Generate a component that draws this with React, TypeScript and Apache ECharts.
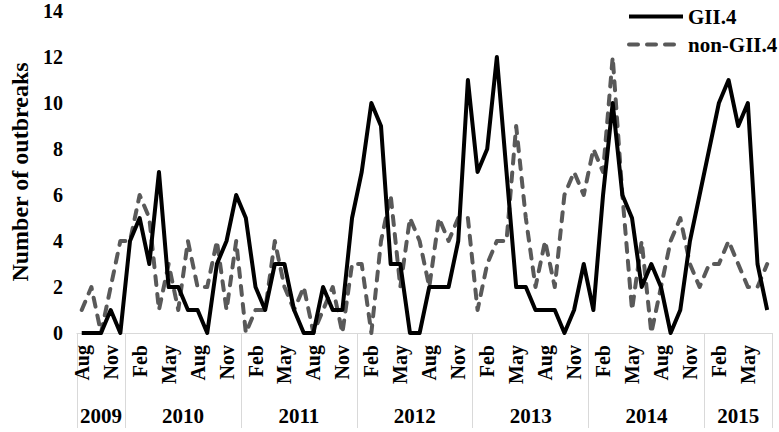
import React, { useEffect, useRef } from "react";
import * as echarts from "echarts";

// Month abbreviations used for the category axis
const monthNames = ["Jan", "Feb", "Mar", "Apr", "May", "Jun", "Jul", "Aug", "Sep", "Oct", "Nov", "Dec"];
// Year groups and how many months each covers (Aug 2009 – Jul 2015)
const years = ["2009", "2010", "2011", "2012", "2013", "2014", "2015"];
const yearMonthCounts = [5, 12, 12, 12, 12, 12, 7];
const firstMonthIndex = 7; // August

// Monthly outbreak counts
const gii4 = [
  0, 0, 0, 1, 0,
  4, 5, 3, 7, 2, 2, 1, 1, 0, 3, 4, 6,
  5, 2, 1, 3, 3, 1, 0, 0, 2, 1, 1, 5,
  7, 10, 9, 3, 3, 0, 0, 2, 2, 2, 4, 11,
  7, 8, 12, 7, 2, 2, 1, 1, 1, 0, 1, 3,
  1, 6, 10, 6, 5, 2, 3, 2, 0, 1, 4, 6,
  8, 10, 11, 9, 10, 3, 1,
];
const nonGii4 = [
  1, 2, 0, 2, 4,
  4, 6, 5, 1, 3, 1, 4, 2, 2, 4, 1, 4,
  0, 1, 1, 4, 2, 1, 2, 0, 1, 2, 0, 3,
  3, 0, 4, 6, 2, 5, 4, 2, 5, 4, 5, 5,
  1, 3, 4, 4, 9, 5, 2, 4, 2, 6, 7, 6,
  8, 7, 12, 6, 1, 4, 0, 2, 4, 5, 3, 2,
  3, 3, 4, 3, 2, 2, 3,
];
const yTicks = [0, 2, 4, 6, 8, 10, 12, 14];

const FONT = "Liberation Serif";

export default function App() {
  const ref = useRef<HTMLDivElement>(null);
  useEffect(() => {
    if (!ref.current) return;
    const chart = echarts.init(ref.current, null, { renderer: "svg" });

    const total = yearMonthCounts.reduce((a, b) => a + b, 0);
    const categories: string[] = [];
    for (let i = 0; i < total; i++) categories.push(monthNames[(firstMonthIndex + i) % 12]);
    const boundaries: number[] = [0];
    const mids: number[] = [];
    yearMonthCounts.forEach((c) => {
      const start = boundaries[boundaries.length - 1];
      mids.push(start + c / 2);
      boundaries.push(start + c);
    });

    chart.setOption({
      animation: false,
      backgroundColor: "#ffffff",
      textStyle: { fontFamily: FONT },
      grid: { left: 70, right: 7, top: 11, bottom: 99, containLabel: false },
      legend: {
        orient: "vertical",
        left: 622,
        top: 1,
        itemWidth: 54,
        itemHeight: 20,
        itemGap: 7,
        itemStyle: { opacity: 0 },
        lineStyle: { width: 4 },
        textStyle: { fontFamily: FONT, fontWeight: "bold", fontSize: 21, color: "#000" },
        data: ["GII.4", "non-GII.4"],
      },
      xAxis: [
        {
          type: "category",
          data: categories,
          boundaryGap: true,
          axisLine: { show: true, lineStyle: { color: "#d9d9d9", width: 1 } },
          axisTick: { show: false },
          axisLabel: {
            interval: 2,
            rotate: 90,
            margin: 12,
            fontFamily: FONT,
            fontWeight: "bold",
            fontSize: 20,
            color: "#000",
          },
          splitLine: { show: false },
        },
        {
          type: "value",
          min: 0,
          max: total,
          position: "bottom",
          axisLine: { show: false },
          axisTick: {
            show: true,
            customValues: boundaries,
            length: 95,
            lineStyle: { color: "#d9d9d9", width: 1 },
          },
          axisLabel: {
            show: true,
            customValues: mids,
            margin: 72,
            fontFamily: FONT,
            fontWeight: "bold",
            fontSize: 21,
            color: "#000",
            formatter: (v: number) => {
              const idx = mids.findIndex((m) => Math.abs(m - v) < 1e-6);
              return idx >= 0 ? years[idx] : "";
            },
          },
          splitLine: { show: false },
        },
      ],
      yAxis: {
        type: "value",
        min: 0,
        max: yTicks[yTicks.length - 1],
        interval: 2,
        name: "Number of outbreaks",
        nameLocation: "middle",
        nameRotate: 90,
        nameGap: 44,
        nameTextStyle: { fontFamily: FONT, fontWeight: "bold", fontSize: 24, color: "#000" },
        axisLine: { show: false },
        axisTick: { show: false },
        splitLine: { show: false },
        axisLabel: { margin: 14, fontFamily: FONT, fontWeight: "bold", fontSize: 20, color: "#000" },
      },
      series: [
        {
          name: "GII.4",
          type: "line",
          data: gii4,
          symbol: "none",
          lineStyle: { color: "#000000", width: 4, join: "round" },
          itemStyle: { color: "#000000" },
          z: 3,
        },
        {
          name: "non-GII.4",
          type: "line",
          data: nonGii4,
          symbol: "none",
          lineStyle: { color: "#595959", width: 4, type: [9, 9], cap: "round", join: "round" },
          itemStyle: { color: "#595959" },
          z: 2,
        },
      ],
    });
    return () => chart.dispose();
  }, []);
  return (
    <div
      ref={ref}
      style={{ position: "fixed", left: 0, top: 0, width: 779, height: 432, background: "#fff" }}
    />
  );
}
